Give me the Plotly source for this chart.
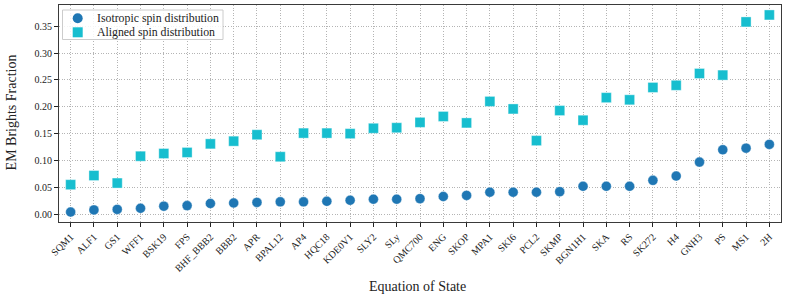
import plotly.graph_objects as go

eos = ["SQM1", "ALF1", "GS1", "WFF1", "BSK19", "FPS", "BHF_BBB2", "BBB2", "APR", "BPAL12",
       "AP4", "HQC18", "KDE0V1", "SLY2", "SLy", "QMC700", "ENG", "SKOP", "MPA1", "SKI6",
       "PCL2", "SKMP", "BGN1H1", "SKA", "RS", "SK272", "H4", "GNH3", "PS", "MS1", "2H"]

isotropic = [0.004, 0.008, 0.009, 0.011, 0.015, 0.016, 0.020, 0.021, 0.022, 0.023,
             0.023, 0.024, 0.026, 0.028, 0.028, 0.029, 0.033, 0.035, 0.041, 0.041,
             0.041, 0.042, 0.052, 0.052, 0.052, 0.063, 0.071, 0.097, 0.120, 0.123, 0.130]

aligned = [0.055, 0.072, 0.058, 0.108, 0.113, 0.115, 0.131, 0.136, 0.148, 0.107,
           0.151, 0.151, 0.150, 0.160, 0.161, 0.171, 0.182, 0.170, 0.210, 0.196,
           0.137, 0.193, 0.175, 0.217, 0.213, 0.236, 0.240, 0.262, 0.259, 0.358, 0.371]

y_ticks = [0.00, 0.05, 0.10, 0.15, 0.20, 0.25, 0.30, 0.35]

series_names = ["Isotropic spin distribution", "Aligned spin distribution"]
series_colors = ["#1f77b4", "#17becf"]
series_symbols = ["circle", "square"]

FONT = "Liberation Serif"

# plot-area geometry (pixels) used to place the hand-drawn legend
W, H = 789, 296
ML, MR, MT, MB = 59, 8, 5, 74
PW, PH = W - ML - MR, H - MT - MB


def px_x(px):
    return (px - ML) / PW


def px_y(py):
    return (H - MB - py) / PH


fig = go.Figure()
for vals, name, col, sym in zip([isotropic, aligned], series_names, series_colors, series_symbols):
    fig.add_trace(go.Scatter(
        x=eos, y=vals, mode="markers", name=name, showlegend=False,
        marker=dict(symbol=sym, size=10, color=col,
                    line=dict(width=0.6, color="rgba(255,255,255,0.6)")),
    ))

grid = dict(showgrid=True, gridcolor="#b4b4b4", gridwidth=1, griddash="1px,1.6px")

shapes = [
    dict(type="rect", xref="paper", yref="paper",
         x0=px_x(62.5), x1=px_x(223), y0=px_y(39.5), y1=px_y(10),
         line=dict(color="#cccccc", width=1), fillcolor="rgba(255,255,255,0.85)", layer="above"),
]
annotations = []
legend_rows = [18.3, 32.3]
for row_y, name, col, sym in zip(legend_rows, series_names, series_colors, series_symbols):
    shapes.append(dict(
        type="circle" if sym == "circle" else "rect",
        xref="paper", yref="paper", xsizemode="pixel", ysizemode="pixel",
        xanchor=px_x(77.7), yanchor=px_y(row_y), x0=-5, x1=5, y0=-5, y1=5,
        fillcolor=col, line=dict(width=0), layer="above"))
    annotations.append(dict(
        x=px_x(95), y=px_y(row_y), xref="paper", yref="paper",
        xanchor="left", yanchor="middle", showarrow=False, text=name,
        font=dict(family=FONT, size=11.8, color="#222")))

annotations.append(dict(
    x=0.497, y=px_y(286), xref="paper", yref="paper", xanchor="center", yanchor="middle",
    showarrow=False, text="Equation of State", font=dict(family=FONT, size=14, color="#222")))
annotations.append(dict(
    x=px_x(11), y=0.505, xref="paper", yref="paper", xanchor="center", yanchor="middle",
    showarrow=False, textangle=-90, text="EM Brights Fraction",
    font=dict(family=FONT, size=14, color="#222")))

fig.update_layout(
    width=W, height=H,
    margin=dict(l=ML, r=MR, t=MT, b=MB, autoexpand=False),
    paper_bgcolor="white", plot_bgcolor="white",
    font=dict(family=FONT, size=10, color="#222"),
    showlegend=False,
    shapes=shapes,
    annotations=annotations,
    xaxis=dict(
        type="category", categoryorder="array", categoryarray=eos,
        range=[-0.5, len(eos) - 0.5],
        tickangle=-45, ticks="outside", ticklen=4, tickwidth=1, tickcolor="#222",
        showline=True, linecolor="#3a3a3a", linewidth=1.2, mirror=True,
        automargin=False,
        tickfont=dict(size=10, family=FONT),
        layer="above traces",
        **grid,
    ),
    yaxis=dict(
        range=[-0.0145, 0.3895],
        tickvals=y_ticks, tickformat=".2f",
        ticks="outside", ticklen=4, tickwidth=1, tickcolor="#222",
        showline=True, linecolor="#3a3a3a", linewidth=1.2, mirror=True,
        zeroline=False, automargin=False,
        tickfont=dict(size=10, family=FONT),
        layer="above traces",
        **grid,
    ),
)

fig.write_html(
    "out.html",
    config={"displayModeBar": False},
    post_script="document.body.style.margin='0';document.body.style.overflow='hidden';",
)
